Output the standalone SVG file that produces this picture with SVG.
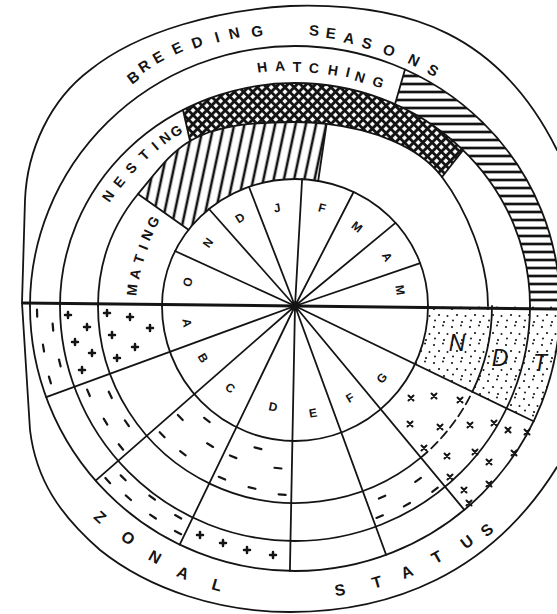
<svg xmlns="http://www.w3.org/2000/svg" width="557" height="614" viewBox="0 0 557 614">
<defs>
<style>
.ln{fill:none;stroke:#141414;stroke-width:1.8;stroke-linecap:round}
.ax{fill:none;stroke:#141414;stroke-width:3}
.t{font-family:"Liberation Sans",Arial,sans-serif;font-weight:bold;fill:#141414;text-anchor:middle;dominant-baseline:central}
.big{font-size:15px}
.mid{font-size:14px}
.zs{font-size:16px}
.mo{font-size:12px}
.ndt{font-size:23px;font-style:italic;font-weight:normal}
.mk{stroke:#141414;stroke-width:2.2;fill:none;stroke-linecap:round}
</style>
<pattern id="vh" width="10" height="10" patternUnits="userSpaceOnUse" patternTransform="rotate(12)">
<line x1="5" y1="-1" x2="5" y2="11" stroke="#141414" stroke-width="2.6"/>
</pattern>
<pattern id="hh" width="8" height="8" patternUnits="userSpaceOnUse">
<line x1="-1" y1="4" x2="9" y2="4" stroke="#141414" stroke-width="2.7"/>
</pattern>
<pattern id="xh" width="6.5" height="6.5" patternUnits="userSpaceOnUse" patternTransform="rotate(45)">
<path d="M0,3.25H6.5M3.25,0V6.5" stroke="#141414" stroke-width="3"/>
</pattern>
<pattern id="dt" width="18" height="18" patternUnits="userSpaceOnUse">
<g fill="#141414"><circle cx="2" cy="3" r="1.1"/><circle cx="11" cy="1.5" r="1"/><circle cx="7" cy="9" r="1.1"/><circle cx="15.5" cy="10" r="1"/><circle cx="3" cy="14.5" r="1"/><circle cx="12" cy="16" r="1.1"/></g>
</pattern>
<line id="tk" x1="0" y1="-3.5" x2="0" y2="3.5" class="mk"/>
<path id="pl" d="M-3,0H3M0,-3V3" class="mk" style="stroke-width:2.5"/>
<path id="st" d="M-2.5,-2.5L2.5,2.5M-2.5,2.5L2.5,-2.5" class="mk" style="stroke-width:2"/>
</defs>
<rect width="557" height="614" fill="#fff"/>

<g id="fills">
<path d="M138,194 C158,170 170,153 190,141 C215,126 250,122 295,122 C305,122 315.7,122.6 326.6,123.9 L318.2,180.9 A133 127 0 0 0 188.5,229.7 Z" fill="url(#vh)"/>
<path d="M183,110 A235 223 0 0 1 463,150.1 L442,177 C418,145 370.3,129 326.6,123.9 C315.7,122.6 305,122 295,122 C250,122 215,126 190,141 Z" fill="url(#xh)"/>
<path d="M395,104.2 L405,69.5 A265 260 0 0 1 560,306 L530,306 A235 223 0 0 0 395,104.2 Z" fill="url(#hh)"/>
<path d="M429,306 L560,306 A265 265 0 0 1 533.6,421.3 L414.7,364.8 A133 135 0 0 0 428,306 Z" fill="url(#dt)"/>
</g>

<g id="frame">
<path class="ln" d="M22,303 L25,200 C27,150 50,100 90,70 C140,30 220,10 290,6 C410,2 500,35 557,150"/>
<path class="ln" d="M22,303 L30,430 C36,480 60,515 100,550 C150,590 220,612 290,612 C390,612 490,575 557,467"/>
</g>

<g id="rings">
<path class="ln" d="M30,306 A265 260 0 0 1 560,306"/>
<path class="ln" d="M60,306 A235 223 0 0 1 530,306"/>
<path class="ln" d="M98,306 C98,260 115,222 138,194 C158,170 170,153 190,141 C215,126 250,122 295,122 C305,122 315.7,122.6 326.6,123.9 C370.3,129 418,145 442,177 C466,209 488,260 488,306"/>
<path class="ln" d="M162,306 A133 127 0 0 1 428,306"/>
<path class="ln" d="M30,306 A265 265 0 0 0 560,306"/>
<path class="ln" d="M60,306 A235 235 0 0 0 530,306"/>
<path class="ln" d="M98,306 A197 197 0 0 0 420.8,457.6"/>
<path class="ln" d="M420.8,457.6 A197 197 0 0 0 472.4,391.7" stroke-dasharray="9 5"/>
<path class="ln" d="M472.4,391.7 A197 197 0 0 0 492,306"/>
<path class="ln" d="M162,306 A133 135 0 0 0 428,306"/>
</g>

<g id="connectors">
<line class="ax" x1="22" y1="303" x2="557" y2="309"/>
<path class="ln" d="M295,306L175,251M295,306L209,209M295,306L249,187M295,306L302.1,179M295,306L353.6,192M295,306L395.5,222.9M295,306L420.2,263.1"/>
<path class="ln" d="M295,306L46.2,397.1M295,306L95.6,480.6M295,306L179.7,544.6M295,306L289.9,571M295,306L386.1,554.8M295,306L464.3,509.9M295,306L533.6,421.3"/>
<path class="ln" d="M188.5,229.7L138,194M318.2,180.9L326.6,123.9M190,141L183,110M442,177L463,150.1M395,104.2L405,69.5"/>
</g>

<g id="marks">
<g transform="translate(295 306)">
<use href="#tk" transform="rotate(178.4) translate(258 0)"/>
<use href="#tk" transform="rotate(175) translate(243 0)"/>
<use href="#tk" transform="rotate(170.5) translate(255 0)"/>
<use href="#tk" transform="rotate(166.4) translate(242 0)"/>
<use href="#tk" transform="rotate(163.2) translate(256 0)"/>
<use href="#tk" transform="rotate(157.2) translate(224 0)"/>
<use href="#tk" transform="rotate(154.3) translate(205 0)"/>
<use href="#tk" transform="rotate(148.6) translate(222 0)"/>
<use href="#tk" transform="rotate(145.1) translate(205 0)"/>
<use href="#tk" transform="rotate(141) translate(224 0)"/>
<use href="#tk" transform="rotate(135.8) translate(160 0)"/>
<use href="#tk" transform="rotate(127.7) translate(144 0)"/>
<use href="#tk" transform="rotate(135.9) translate(185 0)"/>
<use href="#tk" transform="rotate(127.3) translate(185 0)"/>
<use href="#tk" transform="rotate(121.4) translate(163 0)"/>
<use href="#tk" transform="rotate(112.3) translate(163 0)"/>
<use href="#tk" transform="rotate(113) translate(187 0)"/>
<use href="#tk" transform="rotate(104.6) translate(147 0)"/>
<use href="#tk" transform="rotate(96) translate(163 0)"/>
<use href="#tk" transform="rotate(103.3) translate(187 0)"/>
<use href="#tk" transform="rotate(93.9) translate(189 0)"/>
<use href="#tk" transform="rotate(137) translate(256 0)"/>
<use href="#tk" transform="rotate(135) translate(243 0)"/>
<use href="#tk" transform="rotate(131) translate(254 0)"/>
<use href="#tk" transform="rotate(126.7) translate(239 0)"/>
<use href="#tk" transform="rotate(124) translate(254 0)"/>
<use href="#tk" transform="rotate(119) translate(241 0)"/>
<use href="#tk" transform="rotate(117.3) translate(255 0)"/>
<use href="#tk" transform="rotate(65.5) translate(210 0)"/>
<use href="#tk" transform="rotate(60.6) translate(228 0)"/>
<use href="#tk" transform="rotate(54.7) translate(213 0)"/>
<use href="#tk" transform="rotate(52.7) translate(231 0)"/>
<use href="#tk" transform="rotate(68.1) translate(227 0)"/>
</g>
<use href="#pl" x="107" y="313"/><use href="#pl" x="130" y="317"/><use href="#pl" x="150" y="328"/>
<use href="#pl" x="112" y="335"/><use href="#pl" x="135" y="347"/><use href="#pl" x="117" y="358"/>
<use href="#pl" x="68" y="315"/><use href="#pl" x="87" y="327"/><use href="#pl" x="75" y="342"/>
<use href="#pl" x="92" y="353"/><use href="#pl" x="82" y="370"/>
<use href="#pl" x="200" y="535"/><use href="#pl" x="223" y="543"/><use href="#pl" x="247" y="550"/><use href="#pl" x="273" y="555"/>
<use href="#st" x="411" y="398"/><use href="#st" x="434" y="396"/><use href="#st" x="460" y="400"/>
<use href="#st" x="410" y="424"/><use href="#st" x="440" y="427"/><use href="#st" x="470" y="425"/>
<use href="#st" x="494" y="423"/><use href="#st" x="508" y="430"/><use href="#st" x="527" y="432"/>
<use href="#st" x="424" y="448"/><use href="#st" x="447" y="456"/><use href="#st" x="475" y="452"/>
<use href="#st" x="489" y="462"/><use href="#st" x="514" y="453"/><use href="#st" x="450" y="477"/>
<use href="#st" x="464" y="490"/><use href="#st" x="489" y="484"/><use href="#st" x="469" y="503"/>
</g>

<g id="months">
<text class="t mo" transform="translate(188 282) rotate(-77)">O</text>
<text class="t mo" transform="translate(208 243) rotate(-54)">N</text>
<text class="t mo" transform="translate(240 218) rotate(-32)">D</text>
<text class="t mo" transform="translate(277 208) rotate(-10)">J</text>
<text class="t mo" transform="translate(322 208) rotate(15)">F</text>
<text class="t mo" transform="translate(357 227) rotate(38)">M</text>
<text class="t mo" transform="translate(387 257) rotate(62)">A</text>
<text class="t mo" transform="translate(400 290) rotate(81)">M</text>
<text class="t mo" transform="translate(187 323) rotate(81)">A</text>
<text class="t mo" transform="translate(203 358) rotate(60)">B</text>
<text class="t mo" transform="translate(230 388) rotate(38)">C</text>
<text class="t mo" transform="translate(273 407) rotate(12)">D</text>
<text class="t mo" transform="translate(313 413) rotate(-10)">E</text>
<text class="t mo" transform="translate(350 398) rotate(-31)">F</text>
<text class="t mo" transform="translate(382 378) rotate(-50)">G</text>
</g>

<g id="breeding-seasons">
<text class="t big" transform="translate(133 77) rotate(-37)">B</text>
<text class="t big" transform="translate(144 66) rotate(-33)">R</text>
<text class="t big" transform="translate(158 57) rotate(-29)">E</text>
<text class="t big" transform="translate(177 48) rotate(-25)">E</text>
<text class="t big" transform="translate(197 42) rotate(-20)">D</text>
<text class="t big" transform="translate(217 37) rotate(-16)">I</text>
<text class="t big" transform="translate(234 33) rotate(-13)">N</text>
<text class="t big" transform="translate(257 31) rotate(-8)">G</text>
<text class="t big" transform="translate(314 30) rotate(4)">S</text>
<text class="t big" transform="translate(331 33) rotate(7)">E</text>
<text class="t big" transform="translate(349 38) rotate(11)">A</text>
<text class="t big" transform="translate(367 43) rotate(15)">S</text>
<text class="t big" transform="translate(389 50) rotate(20)">O</text>
<text class="t big" transform="translate(414 60) rotate(26)">N</text>
<text class="t big" transform="translate(433 70) rotate(30)">S</text>
</g>

<g id="hatching">
<text class="t mid" transform="translate(262 67) rotate(-8)">H</text>
<text class="t mid" transform="translate(280 66) rotate(-4)">A</text>
<text class="t mid" transform="translate(297 67) rotate(0)">T</text>
<text class="t mid" transform="translate(314 68) rotate(5)">C</text>
<text class="t mid" transform="translate(333 70) rotate(9)">H</text>
<text class="t mid" transform="translate(348 72) rotate(13)">I</text>
<text class="t mid" transform="translate(360 77) rotate(17)">N</text>
<text class="t mid" transform="translate(378 82) rotate(21)">G</text>
</g>

<g id="nesting">
<text class="t mid" transform="translate(108 196) rotate(-55)">N</text>
<text class="t mid" transform="translate(119 182) rotate(-51)">E</text>
<text class="t mid" transform="translate(131 168) rotate(-47)">S</text>
<text class="t mid" transform="translate(144 155) rotate(-44)">T</text>
<text class="t mid" transform="translate(155 146) rotate(-41)">I</text>
<text class="t mid" transform="translate(165 138) rotate(-38)">N</text>
<text class="t mid" transform="translate(176 131) rotate(-35)">G</text>
</g>

<g id="mating">
<text class="t mid" transform="translate(132 290) rotate(-84)">M</text>
<text class="t mid" transform="translate(135 274) rotate(-79)">A</text>
<text class="t mid" transform="translate(139 259) rotate(-73)">T</text>
<text class="t mid" transform="translate(143 247) rotate(-68)">I</text>
<text class="t mid" transform="translate(147 235) rotate(-64)">N</text>
<text class="t mid" transform="translate(153 222) rotate(-59)">G</text>
</g>

<g id="zonal-status">
<text class="t zs" transform="translate(100 517) rotate(43)">Z</text>
<text class="t zs" transform="translate(128 538) rotate(36)">O</text>
<text class="t zs" transform="translate(155 557) rotate(29)">N</text>
<text class="t zs" transform="translate(183 573) rotate(23)">A</text>
<text class="t zs" transform="translate(217 585) rotate(16)">L</text>
<text class="t zs" transform="translate(340 590) rotate(-9)">S</text>
<text class="t zs" transform="translate(377 582) rotate(-16)">T</text>
<text class="t zs" transform="translate(407 572) rotate(-23)">A</text>
<text class="t zs" transform="translate(437 557) rotate(-30)">T</text>
<text class="t zs" transform="translate(467 542) rotate(-36)">U</text>
<text class="t zs" transform="translate(487 530) rotate(-41)">S</text>
</g>

<g id="ndt">
<text class="t ndt" x="457" y="343">N</text>
<text class="t ndt" x="500" y="358">D</text>
<text class="t ndt" x="540" y="363">T</text>
</g>
</svg>
